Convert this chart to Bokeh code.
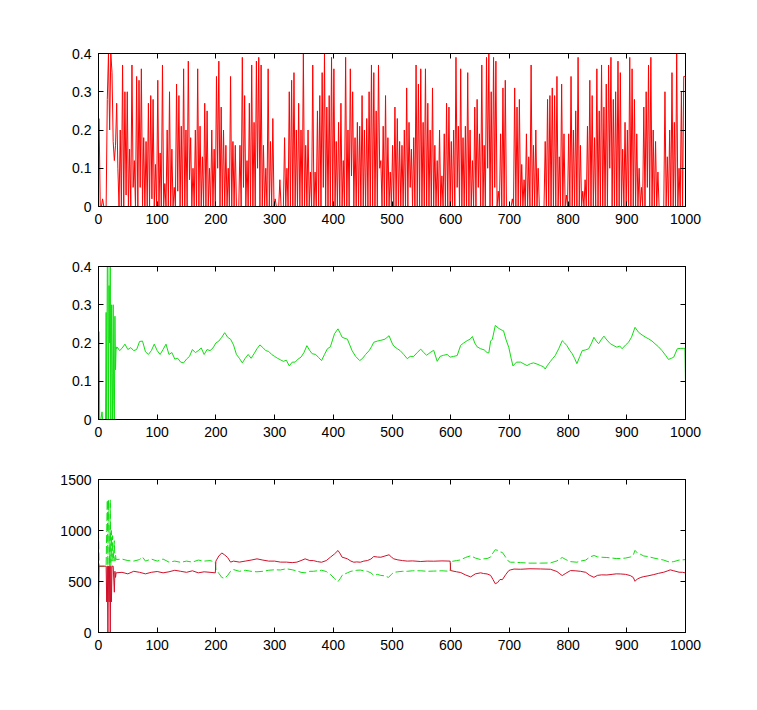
from bokeh.plotting import figure
from bokeh.models import Range1d, FixedTicker, LinearAxis, CustomJSTickFormatter
from bokeh.layouts import column
from bokeh.embed import file_html
from bokeh.resources import INLINE

# ---------------- data ----------------
x_ticks = [0, 100, 200, 300, 400, 500, 600, 700, 800, 900, 1000]
x_tick_labels = ["0", "100", "200", "300", "400", "500", "600", "700", "800", "900", "1000"]
rate_ticks = [0, 0.1, 0.2, 0.3, 0.4]
rate_tick_labels = ["0", "0.1", "0.2", "0.3", "0.4"]
level_ticks = [0, 500, 1000, 1500]
level_tick_labels = ["0", "500", "1000", "1500"]

# top panel: instantaneous values, sampled at every 2nd step (1, 3, 5, ..., 999)
inst_step = list(range(1, 1000, 2))
inst_value = [
    0.23, 0, 0, 0.02, 0, 0, 0, 0.28, 0.4, 0.2,
    0.4, 0.35, 0.17, 0.12, 0.16, 0.27, 0.1, 0, 0.2, 0,
    0.37, 0, 0.3, 0.03, 0.3, 0, 0.15, 0, 0.37, 0.05,
    0.12, 0, 0.34, 0, 0.33, 0.05, 0.36, 0, 0.18, 0,
    0.17, 0, 0.27, 0, 0.29, 0.02, 0.28, 0, 0.11, 0,
    0.33, 0, 0.14, 0, 0.37, 0, 0.06, 0, 0.2, 0,
    0.3, 0, 0.15, 0, 0.05, 0, 0.32, 0.04, 0.29, 0,
    0.21, 0, 0.36, 0, 0.2, 0, 0.38, 0.07, 0.18, 0,
    0.1, 0, 0.2, 0, 0.36, 0, 0.21, 0, 0.13, 0,
    0.27, 0, 0.25, 0, 0.1, 0, 0.2, 0, 0.15, 0,
    0.34, 0.1, 0.38, 0, 0.26, 0, 0.2, 0, 0.16, 0,
    0.1, 0, 0.34, 0, 0.17, 0, 0.16, 0, 0, 0,
    0.16, 0, 0.39, 0.05, 0.29, 0, 0.12, 0, 0.27, 0,
    0.37, 0, 0.22, 0, 0.38, 0.1, 0.39, 0, 0.37, 0,
    0.16, 0, 0.1, 0, 0.36, 0, 0.17, 0, 0.23, 0,
    0.02, 0, 0, 0, 0.07, 0, 0, 0, 0.18, 0,
    0.1, 0, 0.3, 0, 0.33, 0, 0.35, 0, 0.2, 0,
    0.27, 0, 0.2, 0, 0.4, 0, 0.16, 0, 0.2, 0,
    0.09, 0, 0.37, 0, 0.09, 0, 0.25, 0, 0.29, 0,
    0.35, 0.05, 0.4, 0, 0.26, 0, 0.29, 0, 0.39, 0,
    0.36, 0, 0.17, 0, 0.22, 0, 0.27, 0, 0.12, 0,
    0.39, 0, 0.2, 0, 0.36, 0.08, 0.3, 0, 0.18, 0,
    0.22, 0, 0.21, 0, 0.29, 0, 0.2, 0, 0.23, 0,
    0.3, 0, 0.37, 0, 0.35, 0, 0.25, 0, 0.37, 0.1,
    0.12, 0, 0.21, 0, 0.29, 0, 0.18, 0, 0.09, 0,
    0.16, 0, 0.26, 0, 0.23, 0, 0.17, 0, 0.16, 0,
    0.2, 0, 0.31, 0, 0.22, 0.05, 0.15, 0, 0.18, 0,
    0.37, 0, 0.32, 0, 0.36, 0, 0.22, 0, 0.36, 0,
    0.27, 0, 0.2, 0, 0.31, 0, 0.16, 0, 0.12, 0,
    0.2, 0, 0.08, 0, 0.19, 0, 0.27, 0, 0.26, 0,
    0.17, 0, 0.2, 0, 0.39, 0.05, 0.21, 0, 0.36, 0,
    0.18, 0, 0.21, 0, 0.35, 0, 0.2, 0, 0.12, 0,
    0.26, 0, 0.28, 0.05, 0.19, 0, 0.37, 0, 0.16, 0,
    0.39, 0.1, 0.4, 0, 0.3, 0, 0.39, 0.05, 0.38, 0,
    0.04, 0, 0.19, 0, 0.31, 0, 0.33, 0, 0, 0,
    0, 0, 0.02, 0, 0.31, 0, 0.26, 0, 0.28, 0,
    0.11, 0, 0.07, 0, 0.19, 0, 0.13, 0, 0.37, 0,
    0.16, 0, 0.2, 0, 0.1, 0, 0, 0, 0, 0,
    0.17, 0, 0.28, 0, 0.29, 0, 0.31, 0, 0.29, 0,
    0.34, 0, 0.13, 0, 0.32, 0, 0.19, 0, 0.03, 0,
    0.19, 0, 0.34, 0, 0.2, 0, 0.25, 0, 0.39, 0,
    0.16, 0, 0.04, 0, 0.07, 0, 0.21, 0, 0.33, 0,
    0.29, 0, 0.18, 0, 0.36, 0, 0.25, 0, 0.37, 0,
    0.26, 0, 0.32, 0, 0.37, 0.1, 0.39, 0, 0.28, 0,
    0.3, 0, 0.38, 0, 0.35, 0, 0.15, 0, 0.22, 0,
    0.2, 0, 0.39, 0, 0.36, 0, 0.28, 0, 0.19, 0,
    0.1, 0, 0.05, 0, 0.26, 0, 0.3, 0.05, 0.37, 0,
    0.39, 0, 0.2, 0, 0.17, 0, 0.09, 0, 0, 0,
    0, 0, 0.3, 0, 0.13, 0, 0.2, 0, 0.35, 0,
    0.22, 0, 0.4, 0, 0.1, 0, 0.3, 0, 0.34, 0.34,
]

# middle panel: running average
avg_step = [
    1, 2, 4, 6, 7, 8, 10, 12, 13, 14, 15, 16, 17, 18, 19, 20, 21, 22, 23, 24, 25, 26, 27, 28, 29, 30, 31,
    32, 36, 40, 45, 50, 55, 60, 65, 70, 75, 80, 85, 90, 95, 100, 105, 110, 115, 120, 125, 130, 135, 140,
    145, 150, 155, 160, 165, 170, 175, 180, 185, 190, 195, 200, 205, 210, 215, 220, 225, 230, 235, 240,
    245, 250, 255, 260, 265, 270, 275, 280, 285, 290, 295, 300, 305, 310, 315, 320, 325, 330, 335, 340,
    345, 350, 355, 360, 364, 370, 375, 380, 385, 390, 395, 402, 408, 412, 415, 420, 424, 428, 432, 438,
    445, 450, 455, 461, 465, 469, 475, 481, 488, 495, 500, 503, 509, 514, 520, 526, 531, 537, 543, 549,
    554, 559, 565, 571, 577, 582, 588, 594, 599, 605, 611, 617, 622, 628, 633, 637, 641, 645, 651, 657,
    662, 665, 668, 671, 676, 682, 688, 690, 694, 699, 703, 706, 712, 719, 725, 730, 736, 741, 747, 753,
    758, 761, 765, 770, 774, 778, 784, 790, 794, 798, 803, 807, 811, 815, 820, 824, 830, 835, 840, 844,
    848, 852, 857, 861, 866, 872, 878, 883, 888, 892, 898, 903, 908, 914, 920, 926, 932, 937, 943, 948,
    954, 960, 966, 971, 976, 980, 986, 992, 997, 999, 1000,
]
avg_value = [
    0.23, 0, 0, 0.02, 0, 0, 0, 0, 0.28, 0, 0.4, 0.4, 0, 0.35, 0.2, 0.4, 0, 0.3, 0.12, 0, 0.3, 0.05, 0, 0.27, 0.13, 0.19, 0.185,
    0.189, 0.18, 0.186, 0.197, 0.183, 0.188, 0.18, 0.183, 0.204, 0.205, 0.177, 0.17, 0.18, 0.197, 0.18, 0.17, 0.183, 0.197, 0.17, 0.175, 0.158, 0.16, 0.15,
    0.148, 0.158, 0.165, 0.183, 0.175, 0.18, 0.187, 0.17, 0.183, 0.18, 0.187, 0.2, 0.205, 0.215, 0.227, 0.215, 0.21, 0.195, 0.17, 0.16,
    0.148, 0.16, 0.17, 0.16, 0.172, 0.185, 0.195, 0.188, 0.18, 0.178, 0.17, 0.165, 0.16, 0.156, 0.152, 0.155, 0.14, 0.15, 0.15, 0.158,
    0.163, 0.175, 0.193, 0.18, 0.172, 0.17, 0.162, 0.154, 0.17, 0.185, 0.19, 0.224, 0.237, 0.225, 0.215, 0.212, 0.21, 0.195, 0.18, 0.165,
    0.154, 0.16, 0.17, 0.18, 0.19, 0.202, 0.205, 0.207, 0.21, 0.219, 0.2, 0.192, 0.185, 0.18, 0.17, 0.159, 0.165, 0.165, 0.175, 0.184,
    0.175, 0.168, 0.175, 0.181, 0.152, 0.165, 0.168, 0.17, 0.163, 0.165, 0.167, 0.194, 0.2, 0.206, 0.21, 0.217, 0.2, 0.19, 0.185, 0.182,
    0.175, 0.174, 0.205, 0.21, 0.246, 0.238, 0.233, 0.232, 0.21, 0.188, 0.16, 0.14, 0.15, 0.15, 0.145, 0.141, 0.146, 0.148, 0.145, 0.141,
    0.138, 0.132, 0.142, 0.152, 0.16, 0.167, 0.185, 0.206, 0.2, 0.193, 0.18, 0.172, 0.16, 0.146, 0.165, 0.18, 0.182, 0.185, 0.2, 0.215,
    0.205, 0.198, 0.21, 0.218, 0.208, 0.198, 0.193, 0.189, 0.192, 0.185, 0.195, 0.202, 0.215, 0.241, 0.228, 0.221, 0.215, 0.211, 0.205, 0.198,
    0.19, 0.18, 0.168, 0.157, 0.16, 0.163, 0.185, 0.186, 0.186, 0.186, 0.093,
]

# bottom panel: two levels
red_step = [
    0, 1, 13, 14, 15, 16, 17, 18, 19, 20, 21, 22, 23, 25, 27, 28, 29, 30,
    40, 50, 60, 70, 80, 90, 100, 110, 120, 130, 140, 150, 160, 170, 180, 190, 199,
    200, 205, 210, 215, 220, 225, 230, 240, 250, 260, 270, 280, 290, 300, 310, 320, 330, 338,
    345, 352, 360, 366, 373, 380, 388, 395, 402, 408, 412, 415, 420, 424, 430, 435, 440, 446,
    452, 458, 464, 469, 475, 481, 488, 495, 499, 503, 510, 518, 526, 535, 549, 560, 571, 585, 599,
    600, 610, 617, 625, 634, 642, 651, 656, 662, 668, 672, 676, 680, 684, 688, 694, 699, 702, 708,
    719, 735, 753, 770, 781, 786, 790, 796, 804, 812, 821, 830, 837, 844, 850, 857, 866, 875, 882,
    889, 898, 906, 911, 914, 918, 924, 929, 936, 946, 954, 963, 970, 974, 980, 989, 995, 1000,
]
red_level = [
    262, 650, 650, 300, 650, 0, 650, 300, 650, 0, 650, 300, 650, 650, 395, 600, 540, 585,
    590, 575, 600, 590, 575, 590, 598, 585, 595, 610, 600, 590, 605, 585, 595, 590, 585,
    700, 750, 780, 760, 735, 690, 700, 690, 700, 710, 722, 710, 700, 700, 690, 690, 685, 690,
    705, 722, 705, 705, 695, 689, 705, 738, 770, 804, 770, 738, 730, 722, 700, 689, 692, 689,
    700, 705, 720, 745, 740, 738, 750, 762, 740, 722, 712, 705, 700, 702, 696, 700, 699, 702, 700,
    607, 595, 588, 565, 545, 575, 585, 578, 574, 560, 520, 478, 490, 520, 518, 570, 607, 614, 622,
    620, 625, 623, 620, 598, 575, 558, 580, 607, 605, 600, 590, 560, 541, 560, 565, 564, 570, 575,
    574, 570, 558, 540, 502, 525, 540, 548, 555, 568, 580, 591, 605, 614, 605, 591, 590, 584,
]
green_step = [
    0, 1, 13, 14, 15, 16, 17, 18, 19, 20, 21, 22, 23, 24, 25, 27, 28, 29, 30,
    40, 50, 60, 70, 75, 80, 90, 100, 110, 120, 130, 140, 150, 160, 170, 180, 190, 199,
    200, 205, 210, 215, 220, 225, 230, 240, 250, 260, 270, 280, 290, 300, 310, 320, 330, 340,
    345, 352, 360, 366, 373, 380, 388, 395, 402, 408, 412, 415, 420, 424, 430, 440, 446, 452,
    458, 464, 469, 475, 481, 488, 494, 499, 503, 510, 518, 526, 535, 549, 560, 571, 585, 599,
    600, 610, 617, 625, 634, 642, 651, 656, 662, 668, 672, 676, 680, 684, 688, 694, 699, 702, 708,
    719, 735, 753, 770, 781, 786, 790, 796, 804, 815, 821, 830, 837, 844, 850, 857, 866, 875, 882,
    889, 898, 906, 911, 914, 918, 924, 929, 936, 946, 954, 963, 970, 974, 980, 989, 995, 1000,
]
green_level = [
    1000, 650, 650, 1000, 1300, 650, 1300, 1000, 650, 1300, 650, 1000, 700, 950, 700, 900, 700, 760, 715,
    720, 705, 700, 715, 740, 700, 720, 700, 720, 690, 700, 688, 700, 690, 710, 700, 705, 690,
    620, 580, 540, 530, 560, 600, 617, 600, 610, 600, 595, 600, 610, 615, 613, 625, 615, 600,
    590, 585, 600, 600, 605, 610, 598, 570, 530, 499, 530, 560, 575, 585, 600, 610, 612, 605,
    600, 585, 560, 570, 560, 555, 540, 570, 590, 595, 600, 600, 605, 605, 600, 602, 605, 600,
    695, 705, 712, 735, 752, 730, 715, 722, 725, 740, 780, 812, 805, 790, 785, 735, 695, 689, 689,
    685, 680, 680, 682, 702, 722, 735, 715, 695, 689, 700, 710, 740, 755, 742, 738, 735, 730, 725,
    725, 730, 740, 760, 805, 780, 765, 750, 745, 730, 720, 710, 695, 690, 695, 710, 712, 715,
]

# ---------------- styling helpers ----------------
FONT = "Liberation Sans Narrow, Liberation Sans, Arial, sans-serif"
FONT_SIZE = "14px"


def style_axis(ax, ticks, labels):
    ax.ticker = FixedTicker(ticks=ticks)
    ax.major_label_overrides = {t: l for t, l in zip(ticks, labels)}
    ax.major_tick_in = 5
    ax.major_tick_out = 0
    ax.minor_tick_line_color = None
    ax.axis_line_color = "black"
    ax.major_tick_line_color = "black"
    ax.major_label_text_font = FONT
    ax.major_label_text_font_size = FONT_SIZE
    ax.major_label_text_color = "black"
    ax.major_label_standoff = 7


def mirror_axis(ticks):
    return LinearAxis(
        ticker=FixedTicker(ticks=ticks),
        formatter=CustomJSTickFormatter(code="return ''"),
        major_tick_in=5, major_tick_out=0,
        minor_tick_line_color=None,
        major_label_standoff=0,
        axis_line_color="black", major_tick_line_color="black",
    )


def make_panel(ymax, yticks, ylabels, top, bottom):
    p = figure(
        frame_width=587, frame_height=153,
        x_range=Range1d(0, 1000), y_range=Range1d(0, ymax),
        output_backend="svg", toolbar_location=None,
        min_border_left=98, min_border_right=40,
        min_border_top=top, min_border_bottom=bottom,
        background_fill_color="white", border_fill_color="white",
        outline_line_color="black",
    )
    p.grid.visible = False
    style_axis(p.xaxis[0], x_ticks, x_tick_labels)
    style_axis(p.yaxis[0], yticks, ylabels)
    p.add_layout(mirror_axis(x_ticks), "above")
    p.add_layout(mirror_axis(yticks), "right")
    return p


p1 = make_panel(0.4, rate_ticks, rate_tick_labels, 53, 30)
p1.line(inst_step, inst_value, line_color="#ff0000", line_width=1)

p2 = make_panel(0.4, rate_ticks, rate_tick_labels, 30, 30)
p2.line(avg_step, avg_value, line_color="#10dd10", line_width=1)

p3 = make_panel(1500, level_ticks, level_tick_labels, 30, 30)
p3.line(green_step, green_level, line_color="#10dd10", line_width=1, line_dash="8 3")
p3.line(red_step, red_level, line_color="#d0102a", line_width=1)

layout = column(p1, p2, p3, spacing=0)
open("out.html", "w").write(file_html(layout, INLINE))
